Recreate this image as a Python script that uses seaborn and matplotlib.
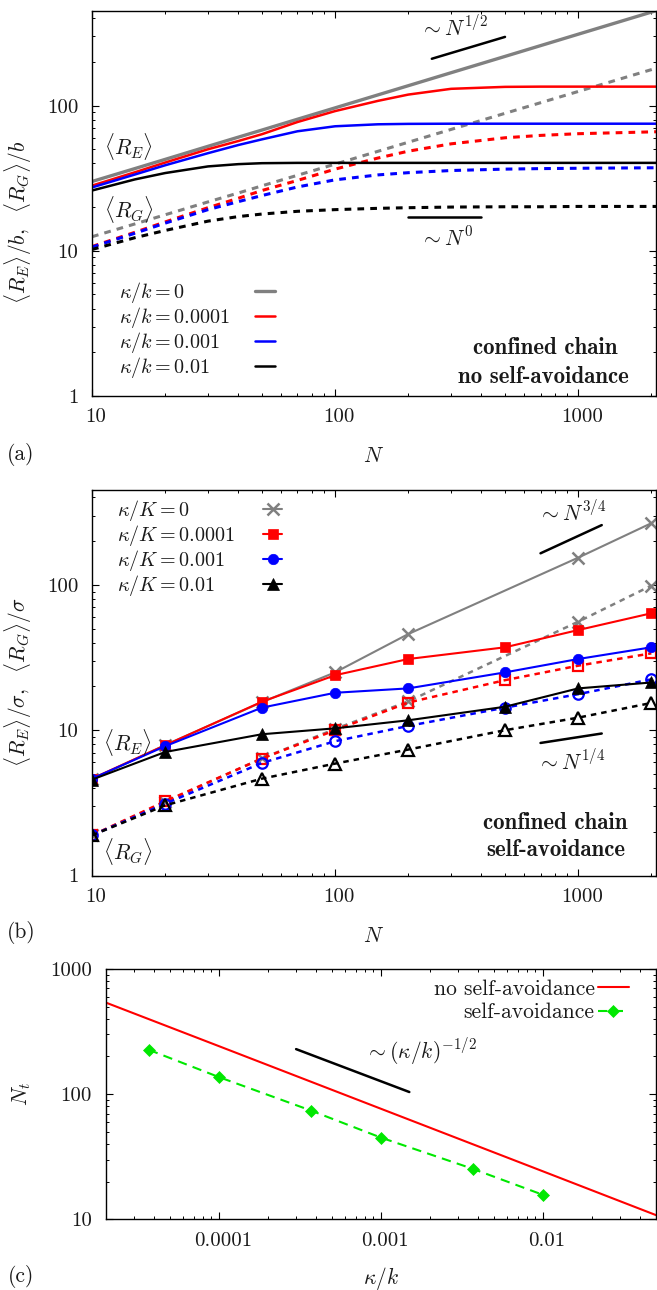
import matplotlib
matplotlib.use("Agg")
import matplotlib.pyplot as plt
import matplotlib.transforms as mtransforms
from matplotlib.ticker import NullFormatter
import seaborn as sns

# ---------------- panel (a): no self-avoidance (theory curves) ----------------
N_a = [10, 15, 20, 30, 40, 50, 70, 100, 150, 200, 300, 500, 700, 1000, 2090]
RE_a_k0 = [30, 36.8, 42.6, 52.4, 60.6, 67.8, 80.5, 96.4, 118.4, 137, 168.3, 218, 258.6, 309.9, 450]
RE_a_k1 = [28.1, 34.7, 40.5, 50.0, 57.0, 63.5, 77.0, 91.6, 107.7, 119, 130.4, 134.5, 135, 135, 135]
RE_a_k2 = [27.3, 33.5, 38.8, 47.0, 53.5, 58.5, 66.5, 72.0, 74.3, 74.8, 75, 75, 75, 75, 75]
RE_a_k3 = [26.0, 31.0, 34.3, 38.1, 39.5, 40.1, 40.3, 40.3, 40.3, 40.3, 40.3, 40.3, 40.3, 40.3, 40.3]
RG_a_k0 = [12.5, 15.3, 17.7, 21.7, 25.0, 28.0, 33.1, 39.5, 48.4, 55.9, 68.5, 88.4, 104.6, 125, 180.7]
RG_a_k1 = [10.7, 13.4, 15.8, 19.8, 23.0, 26.0, 30.5, 36.5, 43.5, 48.5, 54.5, 60.0, 62.3, 64.0, 66.0]
RG_a_k2 = [10.6, 13.2, 15.5, 19.2, 21.8, 24.0, 27.5, 30.8, 33.3, 34.5, 35.7, 36.5, 36.8, 37.0, 37.3]
RG_a_k3 = [10.2, 12.3, 13.8, 16.0, 17.2, 17.9, 18.7, 19.2, 19.6, 19.8, 20.0, 20.1, 20.1, 20.2, 20.2]
labels_a = [r"$\kappa/k = 0$", r"$\kappa/k = 0.0001$", r"$\kappa/k = 0.001$", r"$\kappa/k = 0.01$"]
guide_a1_N, guide_a1_R = [250, 500], [210, 297]
guide_a0_N, guide_a0_R = [200, 400], [17.1, 17.1]

# ---------------- panel (b): self-avoidance (simulation points) ----------------
N_b0 = [10, 20, 50, 100, 200, 1000, 2000]
RE_b0 = [4.6, 7.9, 15.6, 25.0, 45.9, 154, 266]
RG_b0 = [1.89, 3.2, 6.4, 10.2, 15.8, 55.8, 98.9]
N_b = [10, 20, 50, 100, 200, 500, 1000, 2000]
RE_b1 = [4.64, 7.88, 15.7, 23.9, 30.9, 37.2, 48.9, 63.8]
RG_b1 = [1.89, 3.24, 6.38, 10.0, 15.5, 22.1, 27.8, 33.8]
RE_b2 = [4.64, 7.76, 14.3, 18.1, 19.4, 25.0, 30.9, 37.2]
RG_b2 = [1.89, 3.12, 5.95, 8.40, 10.7, 14.3, 17.7, 22.4]
RE_b3 = [4.57, 7.08, 9.38, 10.3, 11.7, 14.5, 19.4, 21.3]
RG_b3 = [1.89, 3.04, 4.64, 5.89, 7.36, 10.0, 12.2, 15.4]
labels_b = [r"$\kappa/K = 0$", r"$\kappa/K = 0.0001$", r"$\kappa/K = 0.001$", r"$\kappa/K = 0.01$"]
guide_b34_N, guide_b34_R = [700, 1250], [165, 258]
guide_b14_N, guide_b14_R = [700, 1250], [8.17, 9.49]

# ---------------- panel (c): crossover N_t ----------------
kap_line = [2e-5, 1e-4, 1e-3, 1e-2, 5e-2]
Nt_line = [540, 242, 76.5, 24.2, 10.8]
kap_sa = [3.7e-5, 1e-4, 3.7e-4, 1e-3, 3.7e-3, 1e-2]
Nt_sa = [226, 137, 74, 45, 25.3, 15.7]
guide_c_k, guide_c_N = [3e-4, 1.5e-3], [229, 104]

GRAY, RED, BLUE, BLACK, GREEN = "#808080", "#ff0000", "#0000ff", "#000000", "#00e800"
FS = 15.5
LFS = 14.5

sns.set_theme(style="ticks")
plt.rcParams.update({
    "font.family": ["cmr10", "DejaVu Serif"],
    "mathtext.fontset": "cm",
    "axes.formatter.use_mathtext": True,
    "font.size": FS,
    "axes.linewidth": 1.0,
    "axes.edgecolor": "black",
    "axes.facecolor": "white",
    "figure.facecolor": "white",
    "xtick.direction": "in", "ytick.direction": "in",
    "xtick.top": True, "ytick.right": True,
    "xtick.major.size": 4.8, "ytick.major.size": 4.8,
    "xtick.minor.size": 2.2, "ytick.minor.size": 2.2,
    "xtick.major.width": 0.8, "ytick.major.width": 0.8,
    "xtick.minor.width": 0.7, "ytick.minor.width": 0.7,
    "xtick.color": "black", "ytick.color": "black",
    "xtick.labelsize": 15, "ytick.labelsize": 15,
    "xtick.major.pad": 9, "ytick.major.pad": 10,
    "text.color": "#1a1a1a", "axes.labelcolor": "#1a1a1a",
    "xtick.labelcolor": "#1a1a1a", "ytick.labelcolor": "#1a1a1a",
})

W, H = 657, 1290
fig = plt.figure(figsize=(W / 100, H / 100), dpi=100)


def add_ax(l, r, t, b):
    return fig.add_axes([l / W, 1 - b / H, (r - l) / W, (b - t) / H])


def draw(ax, x, y, color, lw, ls="-", **kw):
    sns.lineplot(x=x, y=y, ax=ax, color=color, linewidth=lw, linestyle=ls,
                 estimator=None, sort=False, legend=False, **kw)
    return ax.lines[-1]


def style_axes(ax, xt, xtl, yt, ytl, xlim, ylim):
    ax.set_xscale("log")
    ax.set_yscale("log")
    ax.set_xlim(*xlim)
    ax.set_ylim(*ylim)
    ax.set_xticks(xt, labels=xtl)
    ax.set_yticks(yt, labels=ytl)
    ax.xaxis.set_minor_formatter(NullFormatter())
    ax.yaxis.set_minor_formatter(NullFormatter())
    off = mtransforms.ScaledTranslation(4 / 100, 0, fig.dpi_scale_trans)
    for lab in ax.get_xticklabels():
        lab.set_transform(lab.get_transform() + off)
    for s in ax.spines.values():
        s.set_visible(True)
        s.set_color("black")


def expand_rows(leg, width_px):
    col = leg._legend_handle_box.get_children()[0]
    for row in col.get_children():
        row.mode = "expand"
        row.width = width_px


DASH = (0, (2.2, 2.0))
BFS = 16.5  # bold caption size

# ================= panel (a) =================
axA = add_ax(92, 656, 10.7, 396)
axA.set_xscale("log"); axA.set_yscale("log")
hA = []
hA.append(draw(axA, N_a, RE_a_k0, GRAY, 2.4))
draw(axA, N_a, RG_a_k0, GRAY, 2.2, DASH)
hA.append(draw(axA, N_a, RE_a_k1, RED, 1.8))
draw(axA, N_a, RG_a_k1, RED, 2.2, DASH)
hA.append(draw(axA, N_a, RE_a_k2, BLUE, 1.8))
draw(axA, N_a, RG_a_k2, BLUE, 2.2, DASH)
hA.append(draw(axA, N_a, RE_a_k3, BLACK, 1.8))
draw(axA, N_a, RG_a_k3, BLACK, 2.2, DASH)
draw(axA, guide_a1_N, guide_a1_R, BLACK, 1.8)
draw(axA, guide_a0_N, guide_a0_R, BLACK, 1.8)
style_axes(axA, [10, 100, 1000], ["10", "100", "1000"], [1, 10, 100], ["1", "10", "100"],
           (10, 2090), (1, 450))
axA.text(224, 345, r"$\sim N^{1/2}$", ha="left", va="center", fontsize=FS)
axA.text(224, 12.4, r"$\sim N^{0}$", ha="left", va="center", fontsize=FS)
axA.text(11.2, 52.4, r"$\langle R_E\rangle$", ha="left", va="center", fontsize=FS)
axA.text(11.2, 19.2, r"$\langle R_G\rangle$", ha="left", va="center", fontsize=FS)
axA.text(0.803, 0.124, "confined chain", transform=axA.transAxes, ha="center", va="center",
         fontsize=BFS, family="cmb10")
axA.text(0.800, 0.050, "no self-avoidance", transform=axA.transAxes, ha="center", va="center",
         fontsize=BFS, family="cmb10")
axA.set_xlabel(r"$N$", fontsize=FS)
axA.xaxis.set_label_coords(0.499, -0.132)
axA.set_ylabel(r"$\langle R_E\rangle/b,\ \ \langle R_G\rangle/b$", fontsize=FS)
axA.yaxis.set_label_coords(-0.103, 0.45)
legA = axA.legend(hA, labels_a, loc="upper left", bbox_to_anchor=(0.047, 0.300),
                  frameon=False, markerfirst=False, handlelength=0.95, handletextpad=0.5,
                  labelspacing=0.0, borderpad=0, borderaxespad=0, fontsize=LFS)
expand_rows(legA, 156)

# ================= panel (b) =================
axB = add_ax(92, 656, 490, 875.5)
axB.set_xscale("log"); axB.set_yscale("log")
hB = []
hB.append(draw(axB, N_b0, RE_b0, GRAY, 1.5, marker="x", markersize=8, markeredgewidth=1.8,
               markeredgecolor=GRAY))
draw(axB, N_b0, RG_b0, GRAY, 1.8, DASH, marker="x", markersize=8, markeredgewidth=1.8,
     markeredgecolor=GRAY)
hB.append(draw(axB, N_b, RE_b1, RED, 1.5, marker="s", markersize=7, markeredgewidth=0.5,
               markeredgecolor=RED))
draw(axB, N_b, RG_b1, RED, 1.8, DASH, marker="s", markersize=7, markeredgewidth=1.6,
     markeredgecolor=RED, markerfacecolor="none")
hB.append(draw(axB, N_b, RE_b2, BLUE, 1.5, marker="o", markersize=7.5, markeredgewidth=0.5,
               markeredgecolor=BLUE))
draw(axB, N_b, RG_b2, BLUE, 1.8, DASH, marker="o", markersize=7.5, markeredgewidth=1.6,
     markeredgecolor=BLUE, markerfacecolor="none")
hB.append(draw(axB, N_b, RE_b3, BLACK, 1.5, marker="^", markersize=8, markeredgewidth=0.5,
               markeredgecolor=BLACK))
draw(axB, N_b, RG_b3, BLACK, 1.8, DASH, marker="^", markersize=8, markeredgewidth=1.6,
     markeredgecolor=BLACK, markerfacecolor="none")
draw(axB, guide_b34_N, guide_b34_R, BLACK, 1.8)
draw(axB, guide_b14_N, guide_b14_R, BLACK, 1.8)
style_axes(axB, [10, 100, 1000], ["10", "100", "1000"], [1, 10, 100], ["1", "10", "100"],
           (10, 2090), (1, 450))
axB.text(684, 314, r"$\sim N^{3/4}$", ha="left", va="center", fontsize=FS)
axB.text(676, 6.04, r"$\sim N^{1/4}$", ha="left", va="center", fontsize=FS)
axB.text(11.05, 8.17, r"$\langle R_E\rangle$", ha="left", va="center", fontsize=FS)
axB.text(11.05, 1.47, r"$\langle R_G\rangle$", ha="left", va="center", fontsize=FS)
axB.text(0.822, 0.136, "confined chain", transform=axB.transAxes, ha="center", va="center",
         fontsize=BFS, family="cmb10")
axB.text(0.822, 0.067, "self-avoidance", transform=axB.transAxes, ha="center", va="center",
         fontsize=BFS, family="cmb10")
axB.set_xlabel(r"$N$", fontsize=FS)
axB.xaxis.set_label_coords(0.499, -0.131)
axB.set_ylabel(r"$\langle R_E\rangle/\sigma,\ \ \langle R_G\rangle/\sigma$", fontsize=FS)
axB.yaxis.set_label_coords(-0.103, 0.5)
legB = axB.legend(hB, labels_b, loc="upper left", bbox_to_anchor=(0.045, 0.980),
                  frameon=False, markerfirst=False, handlelength=0.95, handletextpad=0.5,
                  labelspacing=0.0, borderpad=0, borderaxespad=0, fontsize=LFS)
expand_rows(legB, 165)

# ================= panel (c) =================
axC = add_ax(105.6, 656, 969, 1219.3)
axC.set_xscale("log"); axC.set_yscale("log")
hC = []
hC.append(draw(axC, kap_line, Nt_line, RED, 1.5))
hC.append(draw(axC, kap_sa, Nt_sa, GREEN, 1.5, (0, (4.5, 3.0)), marker="D", markersize=6.5,
               markeredgewidth=0.5, markeredgecolor=GREEN))
draw(axC, guide_c_k, guide_c_N, BLACK, 1.8)
style_axes(axC, [1e-4, 1e-3, 1e-2], ["0.0001", "0.001", "0.01"], [10, 100, 1000],
           ["10", "100", "1000"], (2e-5, 0.05), (10, 1000))
axC.text(8.0e-4, 219, r"$\sim (\kappa/k)^{-1/2}$", ha="left", va="center", fontsize=FS)
axC.set_xlabel(r"$\kappa/k$", fontsize=FS)
axC.xaxis.set_label_coords(0.501, -0.183)
axC.set_ylabel(r"$N_t$", fontsize=FS)
axC.yaxis.set_label_coords(-0.132, 0.5)
axC.legend(hC, ["no self-avoidance", "self-avoidance"], loc="upper right",
           bbox_to_anchor=(0.951, 0.960), frameon=False, markerfirst=False,
           handlelength=1.45, handletextpad=0.15, labelspacing=0.2, borderpad=0,
           borderaxespad=0, fontsize=FS)

for lab, yy in (("(a)", 455), ("(b)", 933), ("(c)", 1277)):
    fig.text(21 / W, 1 - yy / H, lab, ha="center", va="center", fontsize=FS)

fig.savefig("out.png", dpi=100)
